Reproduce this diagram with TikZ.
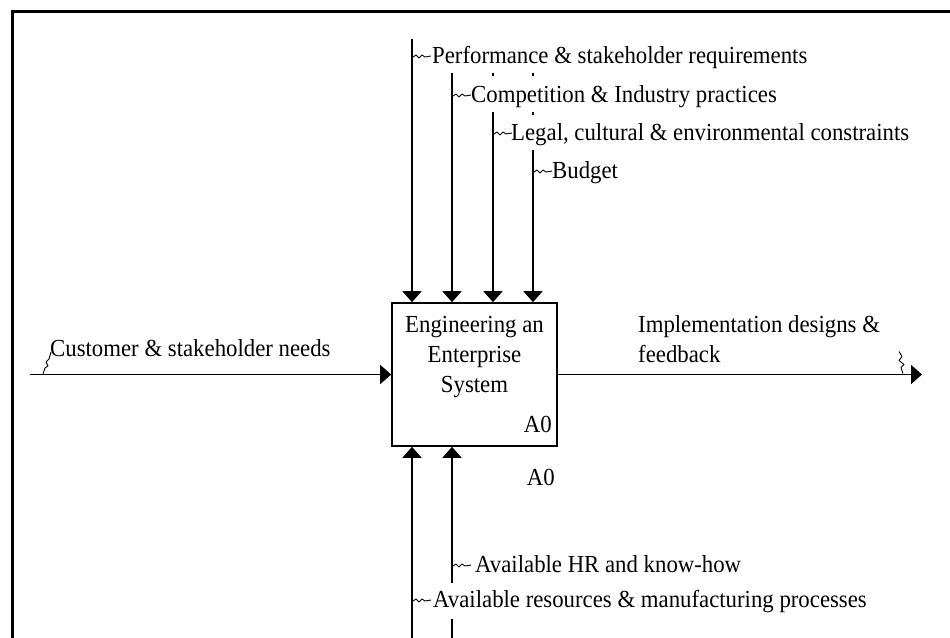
\documentclass[tikz,border=0pt]{standalone}
\usepackage{fontspec}
\setmainfont{Liberation Serif}[FakeStretch=0.93]
\usetikzlibrary{arrows.meta}
\begin{document}
\begin{tikzpicture}[x=1pt,y=-1pt,
  every node/.style={inner sep=0pt, font=\fontsize{24.5}{30}\selectfont},
  flow/.style={line width=1.6pt, -{Triangle[length=11pt,width=19pt]}},
  squig/.style={line width=0.9pt, line join=round},
  frameline/.style={line width=3.2pt, line cap=rect},
  tick/.style={line width=1.5pt},
  lbl/.style={anchor=base west},
  blank/.style={fill=white, inner ysep=7pt}]
\useasboundingbox (0,0) rectangle (950,637);

% outer frame (top and left rules)
\coordinate (fTL) at (12.5,11.5);
\coordinate (fTR) at (951,11.5);
\coordinate (fBL) at (12.5,638);
\draw[frameline] (fTR) -- (fTL) -- (fBL);

% activity box A0
\node[draw, line width=1.6pt, minimum width=165pt, minimum height=143pt] (a0) at (474.5,374.5) {};
\node[align=center] (title) at (474.5,357) {Engineering an\\Enterprise\\System};
\node[anchor=base east] (num) at (552,432) {A0};
\node[anchor=base east] (num2) at (555,485) {A0};

% input
\coordinate (inS) at (30,374.5);
\draw[flow] (inS) -- (a0.west);
\node[lbl] (inL) at (50,356) {Customer \& stakeholder needs};
\draw[squig] (inL.base west) ++(1,-4) -- ++(-2,7) -- ++(-3,3) -- ++(2,4) -- ++(-3,2) -- ++(-2,6);

% output
\coordinate (outE) at (922,374.5);
\draw[flow] (a0.east) -- (outE);
\node[anchor=north west, align=left] (outL) at (638,315.5) {Implementation designs \&\\feedback};
\draw[squig] (outE) ++(-19,-1) -- ++(-2,-6) -- ++(3,-3) -- ++(-5,-4) -- ++(3,-4) -- ++(-3,-5);

% controls
\coordinate (c1) at (412,39);
\coordinate (c2) at (452,73);
\coordinate (c3) at (493,112);
\coordinate (c4) at (533,150);
\foreach \c in {c1,c2,c3,c4} \draw[flow] (\c) -- (\c |- a0.north);
\draw[tick] (c3 |- c2) -- ++(0,3);
\draw[tick] (c4 |- c2) -- ++(0,3);
\draw[tick] (c4 |- c3) -- ++(0,3);

\node[lbl] (cL1) at (432,63) {Performance \& stakeholder requirements};
\node[lbl] (cL2) at (471,102) {Competition \& Industry practices};
\node[lbl] (cL3) at (511,140) {Legal, cultural \& environmental constraints};
\node[lbl] (cL4) at (552,178) {Budget};
\foreach \c/\l in {c1/cL1,c2/cL2,c3/cL3,c4/cL4}
  \draw[squig] (\c |- \l.base) ++(1,-6) -- ++(3,-2) -- ++(3,3) -- ++(3,-3) -- ++(3,2) -- ++(6,-1);

% mechanisms
\coordinate (m1) at (412,638);
\coordinate (m2) at (452,638);
\foreach \m in {m1,m2} \draw[flow] (\m) -- (\m |- a0.south);
\node[lbl] (mL1) at (475,572) {Available HR and know-how};
\node[lbl, blank, inner xsep=0pt] (mL2) at (433,607) {Available resources \& manufacturing processes};
\foreach \m/\l in {m2/mL1,m1/mL2}
  \draw[squig] (\m |- \l.base) ++(1,-6) -- ++(3,-2) -- ++(3,3) -- ++(3,-3) -- ++(3,2) -- ++(6,-1);
\end{tikzpicture}
\end{document}
